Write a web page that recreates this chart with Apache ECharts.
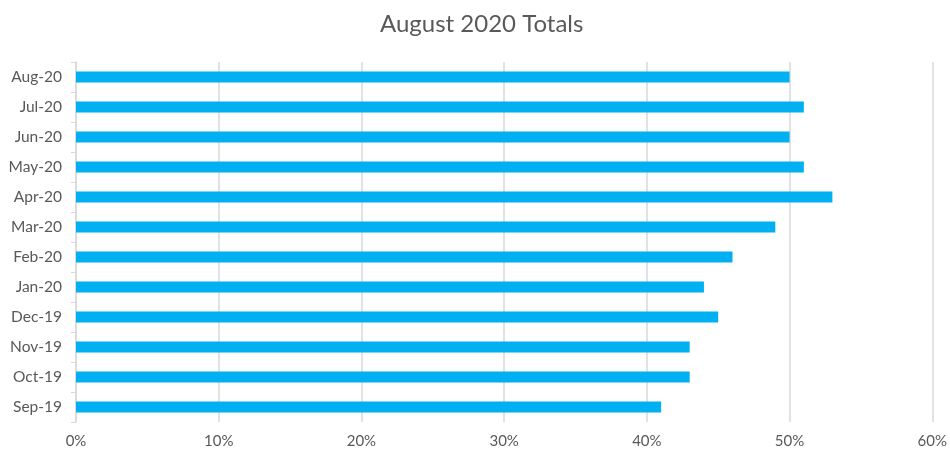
<!DOCTYPE html>
<html>
<head>
<meta charset="utf-8">
<script src="https://cdn.jsdelivr.net/npm/echarts@6/dist/echarts.min.js"></script>
<style>html,body{margin:0;padding:0;background:#fff}#c{width:950px;height:452px}</style>
</head>
<body>
<div id="c"></div>
<script>
const categories = ['Sep-19','Oct-19','Nov-19','Dec-19','Jan-20','Feb-20','Mar-20','Apr-20','May-20','Jun-20','Jul-20','Aug-20'];
const values = [41, 43, 43, 45, 44, 46, 49, 53, 51, 50, 51, 50];
const titleText = 'August 2020 Totals';

const chart = echarts.init(document.getElementById('c'));
chart.setOption({
  animation: false,
  title: {
    text: titleText, left: 375, top: 7,
    textStyle: { fontFamily: 'Lato', fontSize: 24, fontWeight: 'normal', color: '#595959' }
  },
  grid: { left: 76, right: 14, top: 62, bottom: 30 },
  xAxis: {
    type: 'value', min: 0, max: 60, interval: 10,
    axisLabel: { formatter: '{value}%', fontFamily: 'Lato', fontSize: 15, color: '#595959', margin: 12 },
    axisLine: { show: false }, axisTick: { show: false },
    splitLine: { lineStyle: { color: '#d9d9d9', width: 1.5 } }
  },
  yAxis: {
    type: 'category', data: categories,
    axisLine: { show: true, lineStyle: { color: '#d9d9d9', width: 1.5 } },
    axisTick: { show: true, length: 5, lineStyle: { color: '#d9d9d9' } },
    axisLabel: { fontFamily: 'Lato', fontSize: 15.5, color: '#595959', margin: 14 }
  },
  series: [{
    type: 'bar', data: values, barWidth: 11,
    itemStyle: { color: '#00B0F0' }
  }]
});
</script>
</body>
</html>
